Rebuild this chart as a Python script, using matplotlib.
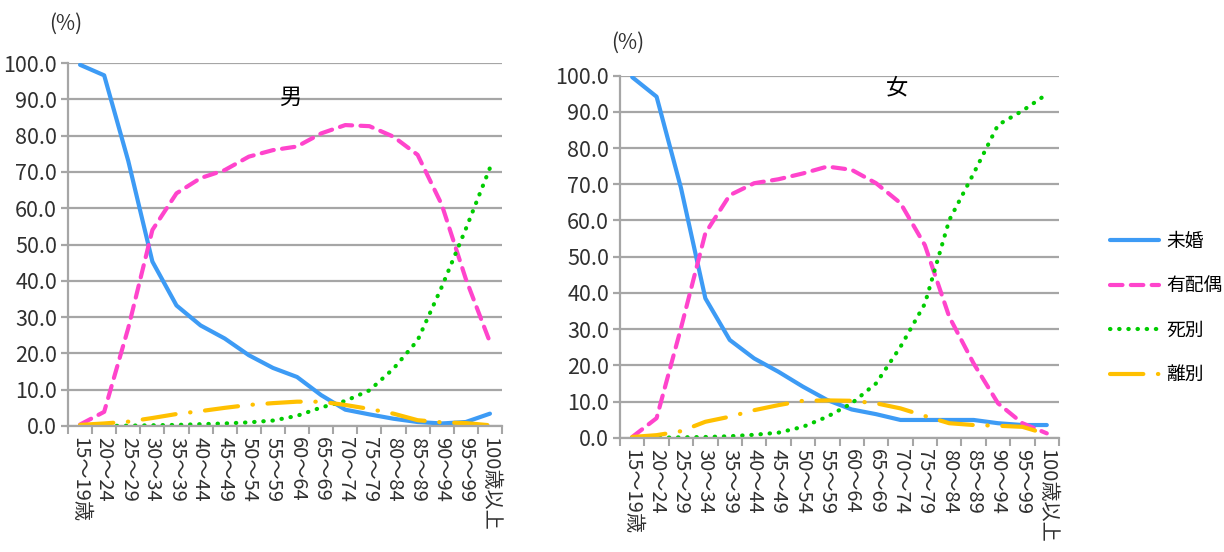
import matplotlib
matplotlib.use("Agg")
import matplotlib.pyplot as plt
from matplotlib.lines import Line2D
from matplotlib.ticker import FixedLocator

plt.rcParams['font.family'] = ['Liberation Sans Narrow', 'Noto Sans CJK JP', 'DejaVu Sans']

ages = ["15～19歳", "20～24", "25～29", "30～34", "35～39", "40～44", "45～49",
        "50～54", "55～59", "60～64", "65～69", "70～74", "75～79", "80～84",
        "85～89", "90～94", "95～99", "100歳以上"]

# 男
m_mikon = [99.5, 96.6, 73.0, 45.3, 33.2, 27.7, 24.1, 19.5, 16.0, 13.5, 8.5, 4.5,
           3.2, 2.0, 1.1, 0.7, 1.1, 3.4]
m_haigu = [0.4, 3.9, 27.0, 54.0, 64.1, 68.3, 70.5, 74.2, 76.0, 77.0, 80.6, 82.9,
           82.6, 79.7, 74.7, 61.0, 40.5, 23.1]
m_shibetsu = [0.0, 0.0, 0.1, 0.2, 0.3, 0.5, 0.7, 1.0, 1.5, 2.8, 5.1, 6.9,
              9.8, 15.8, 23.6, 38.3, 54.3, 71.1]
m_ribetsu = [0.3, 0.7, 1.2, 2.2, 3.3, 4.1, 5.0, 5.8, 6.3, 6.7, 6.7, 5.8,
             4.7, 3.4, 1.6, 1.0, 0.8, 0.2]

# 女
f_mikon = [99.6, 94.2, 69.0, 38.5, 27.0, 21.9, 18.2, 14.1, 10.4, 7.8, 6.5, 4.9,
           4.9, 4.9, 4.9, 4.0, 3.5, 3.5]
f_haigu = [0.2, 5.4, 30.3, 56.5, 67.0, 70.3, 71.4, 73.0, 74.9, 74.0, 70.3, 64.8,
           53.2, 33.4, 20.5, 9.5, 4.0, 1.2]
f_shibetsu = [0.0, 0.0, 0.1, 0.2, 0.4, 0.8, 1.4, 3.0, 5.8, 9.5, 15.0, 25.1,
              37.0, 60.1, 73.0, 86.4, 90.3, 94.9]
f_ribetsu = [0.2, 0.7, 1.8, 4.4, 5.8, 7.6, 9.0, 10.2, 10.3, 10.2, 9.5, 8.1,
             6.0, 4.0, 3.5, 3.3, 3.0, 1.0]

labels = ["未婚", "有配偶", "死別", "離別"]
colors = ["#3d9bf5", "#ff44cc", "#00cc00", "#ffc000"]
styles = ["-", (0, (3, 2)), (0, (0.1, 2.1)), (0, (8, 3.5, 0.1, 3.5))]

grid_c = "#a6a6a6"
txt_c = "#303030"

fig = plt.figure(figsize=(12.24, 5.52), dpi=100)


def draw_panel(rect, series, title, title_xy, pct_xy):
    ax = fig.add_axes(rect)
    x = list(range(len(ages)))
    for vals, c, ls in zip(series, colors, styles):
        ax.plot(x, vals, color=c, linestyle=ls, linewidth=3,
                solid_capstyle="round", dash_capstyle="round")
    ax.set_xlim(-0.5, len(ages) - 0.5)
    ax.set_ylim(0, 100)
    ax.set_yticks(range(0, 101, 10))
    ax.set_yticklabels([f"{v:.1f}" for v in range(0, 101, 10)],
                       fontsize=15.5, color=txt_c)
    ax.yaxis.grid(True, color=grid_c, linewidth=1.6)
    ax.set_axisbelow(True)
    ax.set_xticks(x)
    ax.set_xticklabels(ages, rotation=-90, fontsize=14.5, color=txt_c,
                       va="top", ha="center")
    ax.xaxis.set_minor_locator(FixedLocator([i - 0.5 for i in range(len(ages) + 1)]))
    ax.tick_params(axis="x", which="major", length=0, pad=8)
    ax.tick_params(axis="x", which="minor", length=6, color=grid_c, width=1.5)
    ax.tick_params(axis="y", length=5, color=grid_c, width=1.6, pad=3)
    for s in ["top", "right"]:
        ax.spines[s].set_visible(False)
    for s in ["left", "bottom"]:
        ax.spines[s].set_color(grid_c)
        ax.spines[s].set_linewidth(1.6)
    fig.text(title_xy[0], title_xy[1], title, fontsize=16, ha="center",
             va="center", color="black")
    fig.text(pct_xy[0], pct_xy[1], "(%)", fontsize=15, ha="center",
             va="center", color=txt_c)
    return ax


draw_panel([68 / 1224, 1 - 426 / 552, 434 / 1224, 363 / 552],
           [m_mikon, m_haigu, m_shibetsu, m_ribetsu], "男",
           (290 / 1224, 1 - 97 / 552), (66 / 1224, 1 - 24 / 552))
draw_panel([620 / 1224, 1 - 437.7 / 552, 439 / 1224, 362 / 552],
           [f_mikon, f_haigu, f_shibetsu, f_ribetsu], "女",
           (897 / 1224, 1 - 88 / 552), (628 / 1224, 1 - 43 / 552))

handles = [Line2D([], [], color=c, linestyle=ls, linewidth=3,
                  solid_capstyle="round", dash_capstyle="round")
           for c, ls in zip(colors, styles)]
fig.legend(handles, labels, loc="upper left",
           bbox_to_anchor=(1093 / 1224, 1 - 214 / 552), frameon=False,
           fontsize=13.5, handlelength=2.6, labelspacing=1.25, handletextpad=0.4)

fig.savefig("out.png", dpi=100)
